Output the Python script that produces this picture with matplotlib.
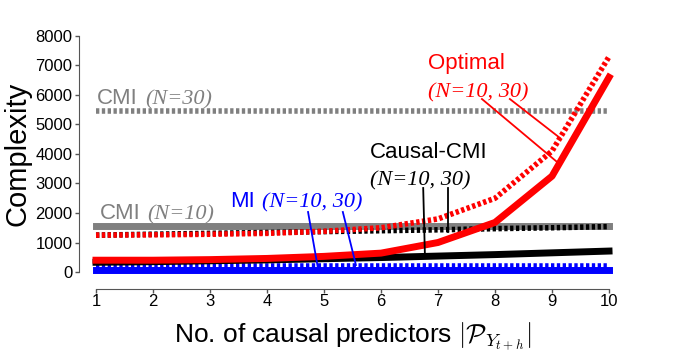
import numpy as np
import matplotlib
matplotlib.use("Agg")
import matplotlib.pyplot as plt

plt.rcParams['font.family'] = ['Liberation Sans', 'DejaVu Sans']
plt.rcParams['mathtext.fontset'] = 'cm'

# data
n_pred = np.arange(1, 11)
optimal_10 = [400, 400, 420, 460, 530, 640, 1000, 1680, 3250, 6600]
optimal_30 = [1250, 1260, 1280, 1310, 1380, 1500, 1800, 2500, 4100, 7300]
causal_10 = [330, 350, 380, 410, 450, 490, 540, 590, 650, 710]
causal_30 = [1250, 1280, 1310, 1340, 1370, 1400, 1430, 1470, 1500, 1540]
cmi_10 = 1570
cmi_30 = 5460
mi_10 = 70
mi_30 = 215

RED = '#ff0000'
GREY = '#808080'
BLUE = '#0000ff'
serif_it = dict(family='Liberation Serif', style='italic')

fig = plt.figure(figsize=(6.77, 3.62), dpi=100)
ax = fig.add_axes([0.1418, 0.2486, 0.7578, 0.652])

dot = (0, (0.6, 0.45))
ax.plot(n_pred, [cmi_30] * 10, color=GREY, lw=4, linestyle=dot, clip_on=False)
ax.plot(n_pred, [cmi_10] * 10, color=GREY, lw=5, clip_on=False)
ax.plot(n_pred, [mi_10] * 10, color=BLUE, lw=5, clip_on=False)
ax.plot(n_pred, [mi_30] * 10, color=BLUE, lw=4, linestyle=dot, clip_on=False)
ax.plot(n_pred, causal_10, color='black', lw=5, clip_on=False)
ax.plot(n_pred, causal_30, color='black', lw=4, linestyle=dot, clip_on=False)
ax.plot(n_pred, optimal_10, color=RED, lw=5, clip_on=False)
ax.plot(n_pred, optimal_30, color=RED, lw=4, linestyle=dot, clip_on=False)

ax.set_xlim(1, 10)
ax.set_ylim(0, 8000)
ax.set_xticks(n_pred)
ax.set_yticks(np.arange(0, 8001, 1000))
for s in ['top', 'right']:
    ax.spines[s].set_visible(False)
ax.spines['left'].set_position(('outward', 12))
ax.spines['bottom'].set_position(('outward', 12))
for s in ['left', 'bottom']:
    ax.spines[s].set_color('#555555')
ax.tick_params(direction='out', length=3, width=1, color='#555555', labelsize=12)
ax.tick_params(axis='y', pad=2)
ax.tick_params(axis='x', pad=1)

ax.set_ylabel('Complexity', fontsize=21, labelpad=3)
ax.set_xlabel(r'No. of causal predictors $|\mathcal{P}_{Y_{t+h}}|$', fontsize=19, labelpad=8)

# labels
fs = 16
ax.text(1.02, 5695, 'CMI', color=GREY, fontsize=fs, va='baseline')
ax.text(1.86, 5695, '(N=30)', color=GREY, fontsize=fs, va='baseline', **serif_it)
ax.text(1.07, 1797, 'CMI', color=GREY, fontsize=fs, va='baseline')
ax.text(1.89, 1797, '(N=10)', color=GREY, fontsize=fs, va='baseline', **serif_it)
ax.text(3.35, 2203, 'MI', color=BLUE, fontsize=fs, va='baseline')
ax.text(3.91, 2203, '(N=10, 30)', color=BLUE, fontsize=fs, va='baseline', **serif_it)
ax.text(5.81, 3864, 'Causal-CMI', color='black', fontsize=fs, va='baseline')
ax.text(5.81, 2949, '(N=10, 30)', color='black', fontsize=fs, va='baseline', **serif_it)
ax.text(6.82, 6881, 'Optimal', color=RED, fontsize=fs, va='baseline')
ax.text(6.82, 5932, '(N=10, 30)', color=RED, fontsize=fs, va='baseline', **serif_it)

# pointer lines
ax.plot([7.77, 9.11], [5864, 3695], color=RED, lw=1.3)
ax.plot([8.26, 9.14], [5864, 4542], color=RED, lw=1.3)
ax.plot([6.74, 6.77], [2847, 576], color='black', lw=1.3)
ax.plot([7.18, 7.18], [2847, 1356], color='black', lw=1.3)
ax.plot([4.72, 4.89], [2034, 169], color=BLUE, lw=1.3)
ax.plot([5.33, 5.56], [2034, 237], color=BLUE, lw=1.3)

fig.savefig('out.png', dpi=100)
